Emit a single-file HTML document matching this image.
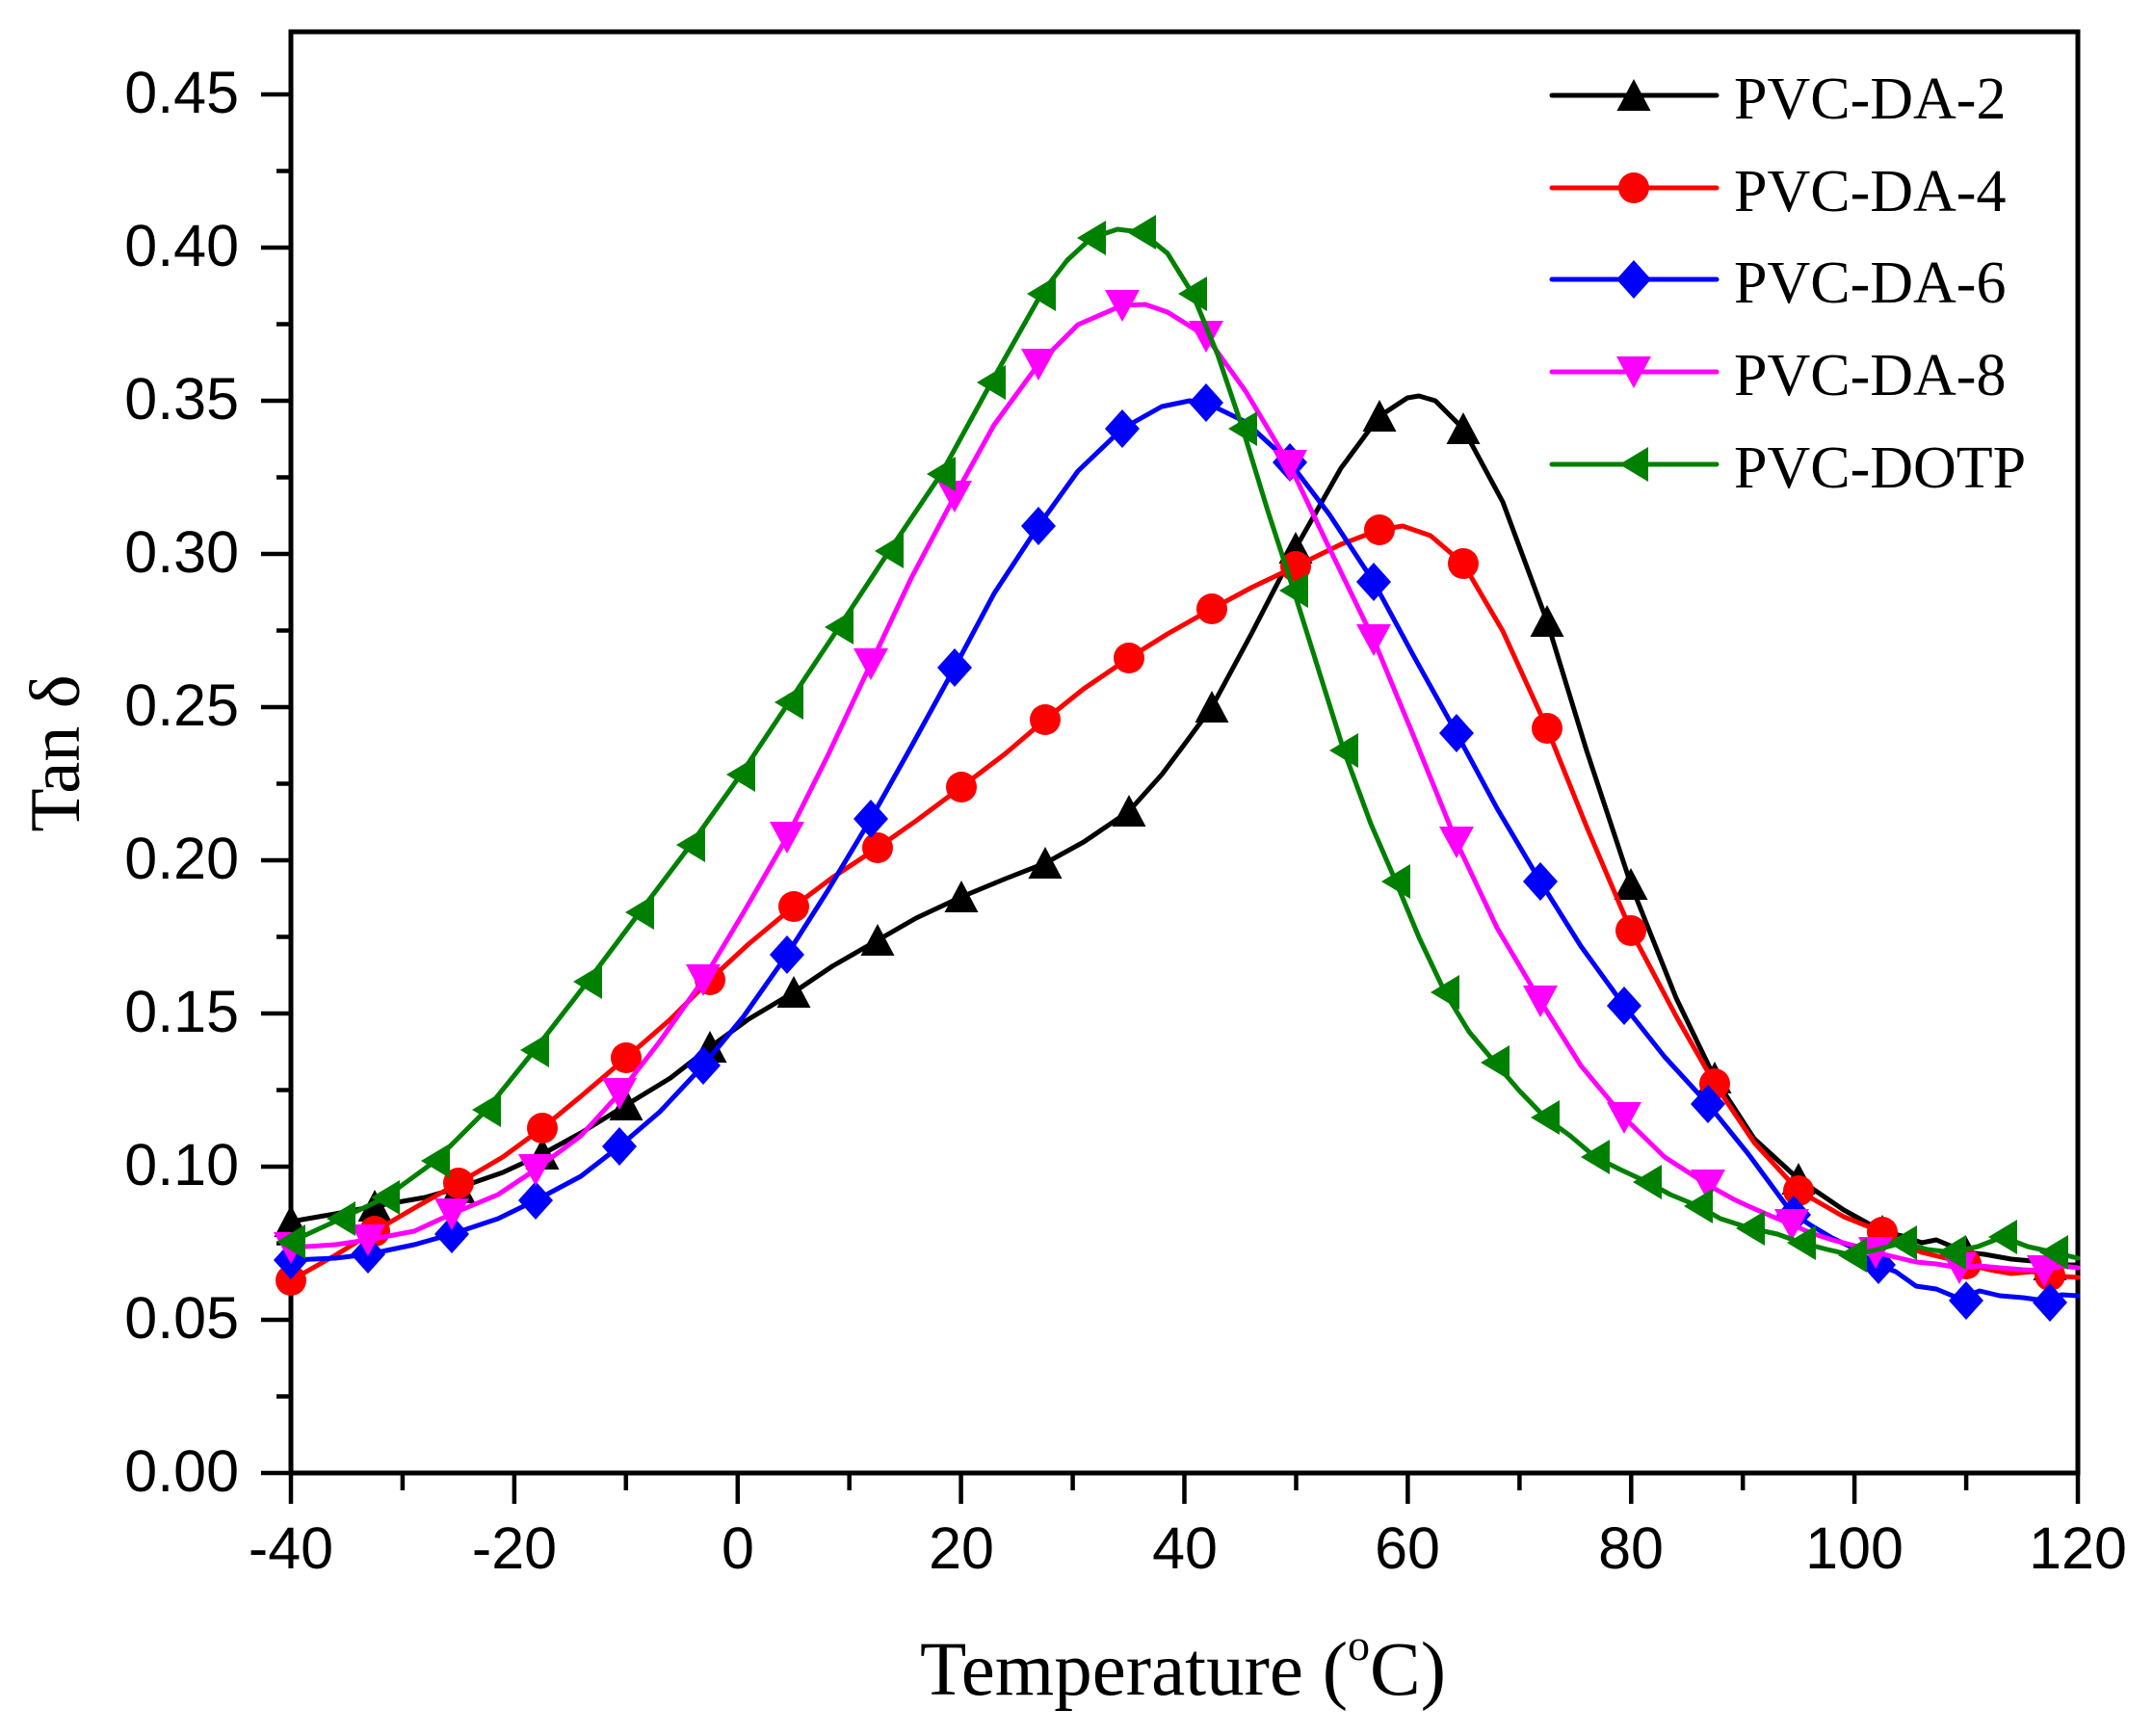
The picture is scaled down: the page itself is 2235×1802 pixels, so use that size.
<!DOCTYPE html>
<html>
<head>
<meta charset="utf-8">
<style>
html,body{margin:0;padding:0;background:#fff;}
svg{display:block;}
</style>
</head>
<body>
<svg width="2235" height="1802" viewBox="0 0 2235 1802" xmlns="http://www.w3.org/2000/svg">
<rect x="0" y="0" width="2235" height="1802" fill="#fff"/>
<defs>
  <polygon id="mUp" points="-17.5,16 17.5,16 0,-17" fill="#000"/>
  <circle id="mCir" cx="0" cy="0" r="16" fill="#ff0000"/>
  <polygon id="mDia" points="0,-20 18,0 0,20 -18,0" fill="#0000ff"/>
  <polygon id="mDown" points="-18,-16 18,-16 0,17" fill="#ff00ff"/>
  <polygon id="mLeft" points="-15,0 15,-18 15,18" fill="#008000"/>
</defs>

<!-- frame -->
<rect x="302" y="33" width="1855" height="1496" fill="none" stroke="#000" stroke-width="5"/>

<!-- ticks -->
<g stroke="#000" stroke-width="4.5" fill="none">
  <path d="M271,1529H302 M271,1370H302 M271,1211H302 M271,1052H302 M271,893H302 M271,734H302 M271,575H302 M271,416H302 M271,257H302 M271,98H302"/>
  <path d="M287,1449.5H302 M287,1290.5H302 M287,1131.5H302 M287,972.5H302 M287,813.5H302 M287,654.5H302 M287,495.5H302 M287,336.5H302 M287,177.5H302"/>
  <path d="M302,1529V1561 M533.9,1529V1561 M765.8,1529V1561 M997.6,1529V1561 M1229.5,1529V1561 M1461.4,1529V1561 M1693.3,1529V1561 M1925.1,1529V1561 M2157,1529V1561"/>
  <path d="M417.9,1529V1547 M649.8,1529V1547 M881.7,1529V1547 M1113.6,1529V1547 M1345.5,1529V1547 M1577.4,1529V1547 M1809.2,1529V1547 M2041.1,1529V1547"/>
</g>

<!-- y tick labels -->
<g font-family="'Liberation Sans', Arial, sans-serif" font-size="61" fill="#000" text-anchor="end">
  <text x="248" y="1548">0.00</text>
  <text x="248" y="1389">0.05</text>
  <text x="248" y="1230">0.10</text>
  <text x="248" y="1071">0.15</text>
  <text x="248" y="912">0.20</text>
  <text x="248" y="753">0.25</text>
  <text x="248" y="594">0.30</text>
  <text x="248" y="435">0.35</text>
  <text x="248" y="276">0.40</text>
  <text x="248" y="117">0.45</text>
</g>
<!-- x tick labels -->
<g font-family="'Liberation Sans', Arial, sans-serif" font-size="61" fill="#000" text-anchor="middle">
  <text x="302" y="1628">-40</text>
  <text x="534" y="1628">-20</text>
  <text x="766" y="1628">0</text>
  <text x="998" y="1628">20</text>
  <text x="1230" y="1628">40</text>
  <text x="1461" y="1628">60</text>
  <text x="1693" y="1628">80</text>
  <text x="1925" y="1628">100</text>
  <text x="2157" y="1628">120</text>
</g>

<!-- axis titles -->
<text x="1228" y="1759" text-anchor="middle" font-family="'Liberation Serif', 'Times New Roman', serif" font-size="79" fill="#000">Temperature (<tspan font-size="46" dy="-36">o</tspan><tspan dy="36">C)</tspan></text>
<text transform="translate(82,782) rotate(-90)" text-anchor="middle" font-family="'Liberation Serif', 'Times New Roman', serif" font-size="74" fill="#000">Tan δ</text>

<!-- series: PVC-DA-2 (black) -->
<polyline fill="none" stroke="#000" stroke-width="5" stroke-linejoin="round" stroke-linecap="round"
 points="302,1268 348,1260 389,1252 441,1243 476,1233 522,1217 563,1198 603,1176 650,1147 696,1119 737,1087 777,1058 824,1030 864,1003 911,976 951,953 998,931 1044,912 1085,896 1125,874 1172,842 1206,804 1230,772 1258,734 1299,658 1345,569 1392,486 1432,432 1461,413 1473,411 1490,416 1519,445 1560,521 1606,645 1647,779 1693,918 1740,1036 1780,1119 1821,1182 1867,1224 1914,1256 1954,1278 1975,1283 1995,1290 2010,1287 2041,1300 2060,1302 2088,1307 2110,1309 2128,1313 2157,1313"/>
<g>
  <use href="#mUp" x="302" y="1268"/><use href="#mUp" x="389" y="1252"/><use href="#mUp" x="476" y="1233"/>
  <use href="#mUp" x="563" y="1198"/><use href="#mUp" x="650" y="1147"/><use href="#mUp" x="737" y="1087"/>
  <use href="#mUp" x="824" y="1030"/><use href="#mUp" x="911" y="976"/><use href="#mUp" x="998" y="931"/>
  <use href="#mUp" x="1085" y="896"/><use href="#mUp" x="1172" y="842"/><use href="#mUp" x="1258" y="734"/>
  <use href="#mUp" x="1345" y="569"/><use href="#mUp" x="1432" y="432"/><use href="#mUp" x="1519" y="445"/>
  <use href="#mUp" x="1606" y="645"/><use href="#mUp" x="1693" y="918"/><use href="#mUp" x="1780" y="1119"/>
  <use href="#mUp" x="1867" y="1224"/><use href="#mUp" x="1954" y="1278"/><use href="#mUp" x="2041" y="1300"/>
  <use href="#mUp" x="2128" y="1313"/>
</g>

<!-- series: PVC-DA-4 (red) -->
<polyline fill="none" stroke="#ff0000" stroke-width="5" stroke-linejoin="round" stroke-linecap="round"
 points="302,1329 348,1303 389,1278 430,1254 476,1228 522,1201 563,1171 603,1138 650,1098 696,1058 737,1017 777,980 824,941 864,911 911,880 951,852 998,817 1044,782 1085,747 1125,715 1172,683 1212,658 1258,632 1299,610 1345,588 1392,565 1432,550 1456,546 1485,556 1519,585 1560,655 1606,756 1647,858 1693,966 1740,1055 1780,1125 1821,1186 1867,1236 1914,1263 1954,1279 1975,1292 1995,1300 2020,1306 2041,1312 2065,1318 2088,1322 2110,1320 2128,1324 2157,1326"/>
<g>
  <use href="#mCir" x="302" y="1329"/><use href="#mCir" x="389" y="1278"/><use href="#mCir" x="476" y="1228"/>
  <use href="#mCir" x="563" y="1171"/><use href="#mCir" x="650" y="1098"/><use href="#mCir" x="737" y="1017"/>
  <use href="#mCir" x="824" y="941"/><use href="#mCir" x="911" y="880"/><use href="#mCir" x="998" y="817"/>
  <use href="#mCir" x="1085" y="747"/><use href="#mCir" x="1172" y="683"/><use href="#mCir" x="1258" y="632"/>
  <use href="#mCir" x="1345" y="588"/><use href="#mCir" x="1432" y="550"/><use href="#mCir" x="1519" y="585"/>
  <use href="#mCir" x="1606" y="756"/><use href="#mCir" x="1693" y="966"/><use href="#mCir" x="1780" y="1125"/>
  <use href="#mCir" x="1867" y="1236"/><use href="#mCir" x="1954" y="1279"/><use href="#mCir" x="2041" y="1312"/>
  <use href="#mCir" x="2128" y="1324"/>
</g>

<!-- series: PVC-DA-6 (blue) -->
<polyline fill="none" stroke="#0000ff" stroke-width="5" stroke-linejoin="round" stroke-linecap="round"
 points="302,1308 348,1306 382,1302 430,1292 469,1281 517,1265 556,1246 603,1221 643,1190 685,1154 730,1106 772,1055 817,991 859,925 904,850 946,775 991,693 1032,616 1078,546 1119,489 1165,445 1206,422 1235,416 1252,418 1293,438 1339,480 1380,534 1426,604 1467,680 1512,761 1554,839 1599,915 1641,982 1686,1044 1728,1097 1773,1146 1815,1198 1860,1259 1880,1272 1902,1285 1925,1296 1947,1312 1968,1320 1989,1335 2010,1338 2034,1348 2055,1340 2076,1345 2100,1347 2122,1350 2140,1344 2157,1345"/>
<g>
  <use href="#mDia" x="302" y="1308"/><use href="#mDia" x="382" y="1302"/><use href="#mDia" x="469" y="1281"/>
  <use href="#mDia" x="556" y="1246"/><use href="#mDia" x="643" y="1190"/><use href="#mDia" x="730" y="1106"/>
  <use href="#mDia" x="817" y="991"/><use href="#mDia" x="904" y="850"/><use href="#mDia" x="991" y="693"/>
  <use href="#mDia" x="1078" y="546"/><use href="#mDia" x="1165" y="445"/><use href="#mDia" x="1252" y="418"/>
  <use href="#mDia" x="1339" y="480"/><use href="#mDia" x="1426" y="604"/><use href="#mDia" x="1512" y="761"/>
  <use href="#mDia" x="1599" y="915"/><use href="#mDia" x="1686" y="1044"/><use href="#mDia" x="1773" y="1146"/>
  <use href="#mDia" x="1862" y="1261"/><use href="#mDia" x="1950" y="1313"/><use href="#mDia" x="2041" y="1350"/>
  <use href="#mDia" x="2128" y="1352"/>
</g>

<!-- series: PVC-DA-8 (magenta) -->
<polyline fill="none" stroke="#ff00ff" stroke-width="5" stroke-linejoin="round" stroke-linecap="round"
 points="302,1295 348,1292 382,1287 430,1278 469,1260 517,1240 556,1214 603,1179 643,1135 685,1081 730,1017 772,947 817,869 859,785 904,689 946,600 991,515 1032,441 1078,378 1119,337 1165,317 1189,316 1212,324 1252,349 1293,406 1339,483 1380,569 1426,664 1467,763 1512,874 1554,963 1599,1039 1641,1106 1686,1160 1728,1201 1773,1230 1800,1245 1815,1252 1838,1262 1860,1271 1880,1280 1902,1287 1925,1293 1947,1300 1968,1305 1989,1310 2010,1312 2034,1316 2055,1314 2076,1316 2100,1318 2122,1319 2140,1314 2157,1316"/>
<g>
  <use href="#mDown" x="302" y="1295"/><use href="#mDown" x="382" y="1287"/><use href="#mDown" x="469" y="1260"/>
  <use href="#mDown" x="556" y="1214"/><use href="#mDown" x="643" y="1135"/><use href="#mDown" x="730" y="1017"/>
  <use href="#mDown" x="817" y="869"/><use href="#mDown" x="904" y="689"/><use href="#mDown" x="991" y="515"/>
  <use href="#mDown" x="1078" y="378"/><use href="#mDown" x="1165" y="317"/><use href="#mDown" x="1252" y="349"/>
  <use href="#mDown" x="1339" y="483"/><use href="#mDown" x="1426" y="664"/><use href="#mDown" x="1512" y="874"/>
  <use href="#mDown" x="1599" y="1039"/><use href="#mDown" x="1686" y="1160"/><use href="#mDown" x="1773" y="1230"/>
  <use href="#mDown" x="1860" y="1271"/><use href="#mDown" x="1947" y="1300"/><use href="#mDown" x="2034" y="1316"/>
  <use href="#mDown" x="2122" y="1319"/>
</g>

<!-- series: PVC-DOTP (green) -->
<polyline fill="none" stroke="#008000" stroke-width="5" stroke-linejoin="round" stroke-linecap="round"
 points="302,1289 354,1265 400,1243 452,1205 505,1152 555,1090 610,1019 664,947 717,877 769,804 819,729 871,651 923,572 977,492 1029,397 1081,305 1108,270 1133,247 1160,238 1185,241 1212,263 1238,305 1264,368 1290,445 1316,530 1343,613 1369,696 1395,779 1423,855 1449,915 1473,973 1500,1030 1525,1071 1552,1103 1577,1132 1604,1160 1630,1179 1656,1201 1682,1214 1710,1227 1734,1240 1763,1252 1786,1265 1817,1275 1845,1281 1870,1290 1897,1297 1923,1303 1949,1297 1975,1290 2001,1297 2026,1300 2053,1294 2079,1284 2105,1294 2132,1300 2157,1306"/>
<g>
  <use href="#mLeft" x="302" y="1289"/><use href="#mLeft" x="354" y="1265"/><use href="#mLeft" x="400" y="1243"/>
  <use href="#mLeft" x="452" y="1205"/><use href="#mLeft" x="505" y="1152"/><use href="#mLeft" x="555" y="1090"/>
  <use href="#mLeft" x="610" y="1019"/><use href="#mLeft" x="664" y="947"/><use href="#mLeft" x="717" y="877"/>
  <use href="#mLeft" x="769" y="804"/><use href="#mLeft" x="819" y="729"/><use href="#mLeft" x="871" y="651"/>
  <use href="#mLeft" x="923" y="572"/><use href="#mLeft" x="977" y="492"/><use href="#mLeft" x="1029" y="397"/>
  <use href="#mLeft" x="1081" y="305"/><use href="#mLeft" x="1133" y="247"/><use href="#mLeft" x="1185" y="241"/>
  <use href="#mLeft" x="1238" y="305"/><use href="#mLeft" x="1290" y="445"/><use href="#mLeft" x="1343" y="613"/>
  <use href="#mLeft" x="1395" y="779"/><use href="#mLeft" x="1449" y="915"/><use href="#mLeft" x="1500" y="1030"/>
  <use href="#mLeft" x="1552" y="1103"/><use href="#mLeft" x="1604" y="1160"/><use href="#mLeft" x="1656" y="1201"/>
  <use href="#mLeft" x="1710" y="1227"/><use href="#mLeft" x="1763" y="1252"/><use href="#mLeft" x="1817" y="1275"/>
  <use href="#mLeft" x="1870" y="1290"/><use href="#mLeft" x="1923" y="1303"/><use href="#mLeft" x="1975" y="1290"/>
  <use href="#mLeft" x="2026" y="1300"/><use href="#mLeft" x="2079" y="1284"/><use href="#mLeft" x="2132" y="1300"/>
</g>

<!-- legend -->
<g stroke-width="5" stroke-linecap="round">
  <line x1="1611" y1="99" x2="1782" y2="99" stroke="#000"/>
  <line x1="1611" y1="195" x2="1782" y2="195" stroke="#ff0000"/>
  <line x1="1611" y1="290" x2="1782" y2="290" stroke="#0000ff"/>
  <line x1="1611" y1="386" x2="1782" y2="386" stroke="#ff00ff"/>
  <line x1="1611" y1="482" x2="1782" y2="482" stroke="#008000"/>
</g>
<use href="#mUp" x="1696" y="99"/>
<use href="#mCir" x="1696" y="195"/>
<use href="#mDia" x="1696" y="290"/>
<use href="#mDown" x="1696" y="386"/>
<use href="#mLeft" x="1696" y="482"/>
<g font-family="'Liberation Serif', 'Times New Roman', serif" font-size="62" fill="#000">
  <text x="1800" y="123">PVC-DA-2</text>
  <text x="1800" y="219">PVC-DA-4</text>
  <text x="1800" y="314">PVC-DA-6</text>
  <text x="1800" y="410">PVC-DA-8</text>
  <text x="1800" y="506">PVC-DOTP</text>
</g>
</svg>
</body>
</html>
